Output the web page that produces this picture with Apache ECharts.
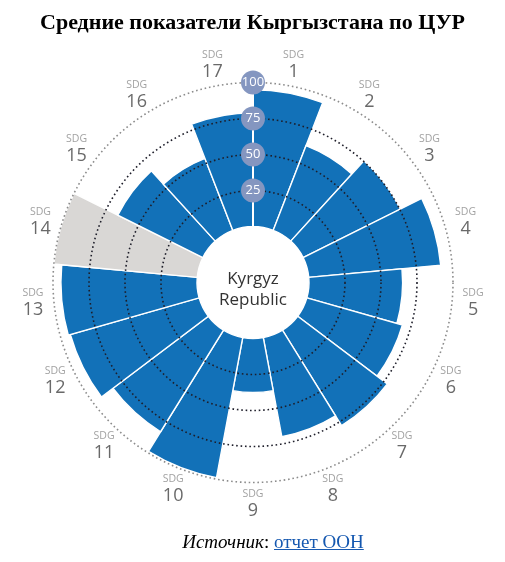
<!DOCTYPE html>
<html>
<head>
<meta charset="utf-8">
<script src="https://cdn.jsdelivr.net/npm/echarts@6/dist/echarts.min.js"></script>
<style>
  html, body { margin: 0; padding: 0; background: #fff; }
  #chart { position: absolute; left: 0; top: 0; width: 505px; height: 562px; }
  #src { position: absolute; left: 0; width: 505px; top: 531px; text-align: center;
         font-family: "Liberation Serif", "DejaVu Serif", serif; font-size: 19px; color: #000; padding-left: 41px; box-sizing: border-box; }
  #src a { color: #1558b0; text-decoration: underline; }
</style>
</head>
<body>
<div id="chart"></div>
<div id="src"><i>Источник</i>: <a href="#">отчет ООН</a></div>
<script>
const titleText = 'Средние показатели Кыргызстана по ЦУР';
const centerText = 'Kyrgyz\nRepublic';
const labelPrefix = 'SDG';
const categories = ['1','2','3','4','5','6','7','8','9','10','11','12','13','14','15','16','17'];
// null = no data (drawn as a full grey sector)
const scores = [95, 63, 75.5, 92, 65, 69, 78, 70, 37.5, 99, 83, 93, 94.5, null, 66, 53.5, 79];
const radiusTicks = [0, 25, 50, 75, 100];

const BLUE = '#1271b8';
const GREY = '#d9d7d5';
const axisMax = radiusTicks[radiusTicks.length - 1];
// category labels sit just outside the outer ring (in radius-axis units)
const LABEL_RADIUS = axisMax + 14.6;

const barData = scores.map(v => v == null
  ? { value: axisMax, itemStyle: { color: GREY } }
  : v);
const labelData = categories.map(c => [LABEL_RADIUS, c]);

const chart = echarts.init(document.getElementById('chart'), null, { renderer: 'canvas' });
chart.setOption({
  animation: false,
  title: [{
    text: titleText,
    left: 'center',
    top: 7,
    textStyle: { fontFamily: 'Liberation Serif', fontWeight: 'bold', fontSize: 22, color: '#000' }
  }],
  polar: { center: [253, 282.5], radius: [56, 200] },
  angleAxis: {
    type: 'category',
    data: categories,
    startAngle: 90,
    clockwise: true,
    axisLine: { show: false },
    axisTick: { show: false },
    splitLine: { show: false },
    axisLabel: { show: false }
  },
  radiusAxis: {
    type: 'value',
    min: radiusTicks[0],
    max: axisMax,
    interval: radiusTicks[1] - radiusTicks[0],
    z: 10,
    axisLine: { show: true, lineStyle: { color: '#fff', width: 2 } },
    axisTick: { show: false },
    splitLine: {
      show: true,
      lineStyle: {
        color: ['rgba(0,0,0,0)', '#1e1e2a', '#1e1e2a', '#1e1e2a', '#8c8c8c'],
        width: 1.6,
        type: [1.6, 2.8]
      }
    },
    axisLabel: {
      showMinLabel: false,
      margin: 0,
      align: 'center',
      verticalAlign: 'middle',
      color: '#fff',
      fontFamily: 'Open Sans',
      fontSize: 13,
      backgroundColor: '#8496c0',
      borderRadius: 12,
      width: 24,
      height: 24,
      lineHeight: 24,
      padding: 0
    }
  },
  graphic: [{
    type: 'text',
    x: 253, y: 290,
    style: {
      text: centerText,
      fontFamily: 'Open Sans',
      fontSize: 17,
      lineHeight: 21,
      fill: '#333',
      align: 'center',
      verticalAlign: 'middle'
    },
    z: 20
  }],
  series: [{
    type: 'bar',
    coordinateSystem: 'polar',
    data: barData,
    barCategoryGap: '0%',
    itemStyle: { color: BLUE, borderColor: '#fff', borderWidth: 1.4 }
  }, {
    type: 'scatter',
    coordinateSystem: 'polar',
    data: labelData,
    clip: false,
    symbolSize: 0,
    silent: true,
    label: {
      show: true,
      position: 'inside',
      formatter: p => '{s|' + labelPrefix + '}\n{n|' + p.value[1] + '}',
      rich: {
        s: { fontFamily: 'Open Sans', fontSize: 10.5, color: '#8a8a8a', lineHeight: 14, align: 'center' },
        n: { fontFamily: 'Open Sans', fontSize: 18, color: '#444', lineHeight: 20, align: 'center' }
      }
    }
  }]
});
</script>
</body>
</html>
